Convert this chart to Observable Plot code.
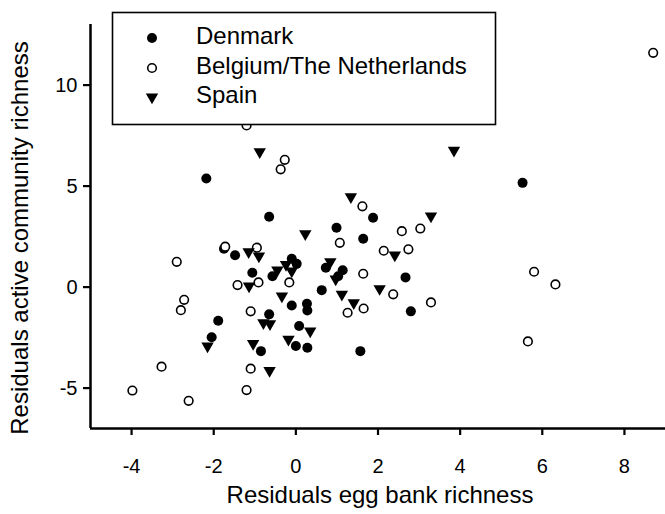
<!DOCTYPE html>
<html>
<head>
<meta charset="utf-8">
<script src="https://cdn.jsdelivr.net/npm/d3@7"></script>
<script src="https://cdn.jsdelivr.net/npm/@observablehq/plot@0.6"></script>
<style>
  html, body { margin: 0; padding: 0; background: #fff; }
  #chart svg { display: block; }
</style>
</head>
<body>
<div id="chart"></div>
<script>
const groups = ["Denmark", "Belgium/The Netherlands", "Spain"];
const xTicks = [-4, -2, 0, 2, 4, 6, 8];
const yTicks = [-5, 0, 5, 10];
const xTitle = "Residuals egg bank richness";
const yTitle = "Residuals active community richness";

const denmarkX = [-2.18, 5.52, -0.65, 1.88, 0.99, 1.64, -1.75, -1.48, -0.10, 0.02, -1.06, -0.57, 0.73, 1.14, 1.03, 2.67, 0.63, -0.10, 0.27, 0.28, -0.65, 2.80, -1.89, -2.05, 0.08, -0.85, 0.00, 0.28, 1.57];
const denmarkY = [5.38, 5.16, 3.48, 3.43, 2.94, 2.39, 1.90, 1.58, 1.40, 1.15, 0.71, 0.54, 0.96, 0.83, 0.54, 0.48, -0.15, -0.91, -0.82, -1.16, -1.35, -1.20, -1.67, -2.48, -1.93, -3.17, -2.92, -3.00, -3.17];

const belgiumX = [8.70, -1.20, -0.27, -0.37, 1.62, 1.07, 3.03, 2.58, 2.14, 2.74, -1.72, -0.95, -2.90, 1.64, -0.16, -1.42, -0.91, 1.26, 1.65, 2.37, 3.29, 5.80, 6.32, 5.65, -2.72, -2.80, -1.10, -1.10, -3.27, -3.98, -2.61, -1.20];
const belgiumY = [11.60, 8.00, 6.30, 5.83, 4.00, 2.19, 2.90, 2.77, 1.80, 1.87, 2.00, 1.95, 1.25, 0.66, 0.23, 0.10, 0.23, -1.27, -1.06, -0.36, -0.76, 0.76, 0.13, -2.69, -0.63, -1.14, -1.20, -4.04, -3.94, -5.12, -5.63, -5.10];

const spainX = [-0.88, 3.85, 1.34, 3.29, 0.23, -1.15, -0.90, -0.24, -0.45, -0.10, 0.84, 0.97, 2.41, -1.14, -0.34, 1.12, 1.41, 2.04, -0.79, -0.63, -2.15, 0.35, -1.04, -0.18, -0.64];
const spainY = [6.70, 6.77, 4.47, 3.51, 2.64, 1.75, 1.53, 1.12, 0.84, 0.79, 1.25, 0.40, 1.58, 0.05, -0.45, -0.36, -0.78, -0.08, -1.77, -1.82, -2.92, -2.18, -2.80, -2.59, -4.13];

const toRows = (xs, ys) => xs.map((x, i) => ({x, y: ys[i]}));
const denmark = toRows(denmarkX, denmarkY);
const belgium = toRows(belgiumX, belgiumY);
const spain = toRows(spainX, spainY);

const font = "'Liberation Sans', Arial, sans-serif";

const plot = Plot.plot({
  width: 665,
  height: 514,
  marginLeft: 90,
  marginRight: 0,
  marginTop: 24,
  marginBottom: 86,
  style: {fontFamily: font, background: "#fff", color: "#000", overflow: "visible"},
  x: {domain: [-5, 9]},
  y: {domain: [-7, 13]},
  marks: [
    Plot.axisX({ticks: xTicks, tickSize: 7, tickPadding: 23, fontSize: 20, strokeWidth: 2.2, label: null, tickFormat: d => String(d)}),
    Plot.axisY({ticks: yTicks, tickSize: 7, tickPadding: 6, fontSize: 20, strokeWidth: 2.2, label: null, tickFormat: d => String(d)}),
    Plot.ruleX([-5], {stroke: "#000", strokeWidth: 2.5}),
    Plot.ruleY([-7], {stroke: "#000", strokeWidth: 2.5}),
    Plot.dot(denmark, {x: "x", y: "y", r: 5, fill: "#000", stroke: "none"}),
    Plot.dot(belgium, {x: "x", y: "y", r: 4.3, fill: "#fff", stroke: "#000", strokeWidth: 1.6}),
    Plot.dot(spain, {x: "x", y: "y", r: 4.6, symbol: "triangle", rotate: 180, fill: "#000", stroke: "none"})
  ]
});

const svg = d3.select(plot);

// axis titles
svg.append("text")
  .attr("x", 380).attr("y", 497)
  .attr("text-anchor", "middle").attr("dominant-baseline", "middle")
  .attr("font-family", font).attr("font-size", 24).attr("fill", "#000")
  .text(xTitle);
svg.append("text")
  .attr("transform", "translate(22,238) rotate(-90)")
  .attr("text-anchor", "middle").attr("dominant-baseline", "middle")
  .attr("font-family", font).attr("font-size", 24).attr("fill", "#000")
  .text(yTitle);

// legend box
const lg = svg.append("g");
lg.append("rect")
  .attr("x", 112.5).attr("y", 12.5).attr("width", 383).attr("height", 112)
  .attr("fill", "#fff").attr("stroke", "#000").attr("stroke-width", 1.6);
const rowsY = [38, 68, 97];
groups.forEach((g, i) => {
  const y = rowsY[i];
  if (i === 0) {
    lg.append("circle").attr("cx", 152).attr("cy", y).attr("r", 5).attr("fill", "#000");
  } else if (i === 1) {
    lg.append("circle").attr("cx", 152).attr("cy", y).attr("r", 4.3).attr("fill", "#fff").attr("stroke", "#000").attr("stroke-width", 1.6);
  } else {
    lg.append("path").attr("d", d3.symbol(d3.symbolTriangle, Math.PI * 4.6 * 4.6)())
      .attr("transform", `translate(152,${y}) rotate(180)`).attr("fill", "#000");
  }
  lg.append("text")
    .attr("x", 196).attr("y", y)
    .attr("text-anchor", "start")
    .attr("dominant-baseline", "middle")
    .attr("font-family", font).attr("font-size", 24).attr("fill", "#000")
    .text(g);
});

document.getElementById("chart").appendChild(plot);
</script>
</body>
</html>
